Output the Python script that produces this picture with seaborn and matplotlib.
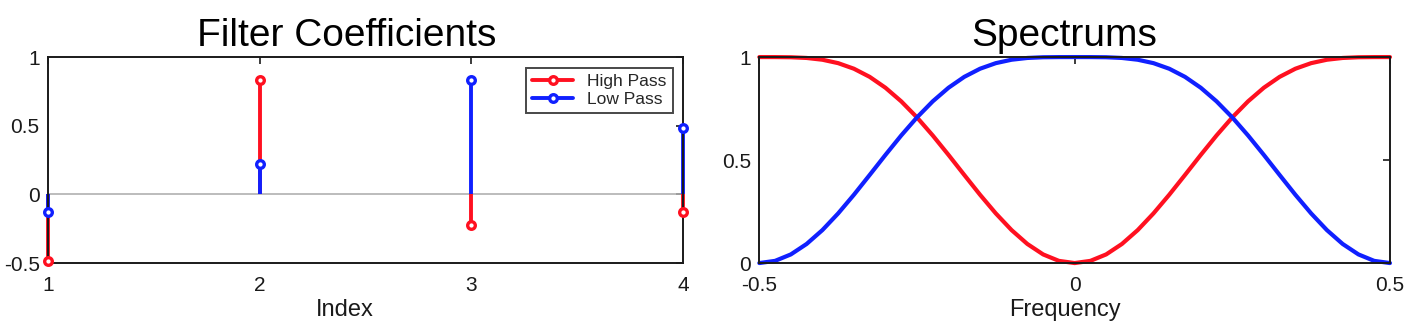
import matplotlib
matplotlib.use('Agg')
import matplotlib.pyplot as plt
import seaborn as sns
import pandas as pd

sns.set_style('white')
plt.rcParams['font.family'] = ['Liberation Sans', 'DejaVu Sans']

# 滤波器系数
index = [1, 2, 3, 4]
high_pass = [-0.483, 0.8365, -0.2241, -0.1294]
low_pass = [-0.1294, 0.2241, 0.8365, 0.483]

# 频谱 (从图上读取的采样点, 0 到 0.5, 两侧对称)
freq = [-0.5, -0.475, -0.45, -0.425, -0.4, -0.375, -0.35, -0.325, -0.3, -0.275,
        -0.25, -0.225, -0.2, -0.175, -0.15, -0.125, -0.1, -0.075, -0.05, -0.025,
        0.0, 0.025, 0.05, 0.075, 0.1, 0.125, 0.15, 0.175, 0.2, 0.225,
        0.25, 0.275, 0.3, 0.325, 0.35, 0.375, 0.4, 0.425, 0.45, 0.475, 0.5]
half_low = [1.0, 0.9999, 0.9991, 0.9957, 0.9871, 0.9705, 0.9434, 0.9039, 0.8511, 0.7851,
            0.7071, 0.6194, 0.525, 0.4277, 0.3316, 0.241, 0.16, 0.0927, 0.042, 0.0106, 0.0]
half_high = [0.0, 0.0106, 0.042, 0.0927, 0.16, 0.241, 0.3316, 0.4277, 0.525, 0.6194,
             0.7071, 0.7851, 0.8511, 0.9039, 0.9434, 0.9705, 0.9871, 0.9957, 0.9991, 0.9999, 1.0]
spec_low = half_low[::-1] + half_low[1:]
spec_high = half_high[::-1] + half_high[1:]

RED = '#ff1020'
BLUE = '#1020ff'
INK = '#1a1a1a'

fig = plt.figure(figsize=(14.14, 3.28), dpi=100)
ax1 = fig.add_axes([0.034, 0.198, 0.449, 0.628])
ax2 = fig.add_axes([0.537, 0.198, 0.446, 0.628])

# 左图: 滤波器系数
ax1.axhline(0, color='#b0b0b0', lw=1.2, zorder=1)
for vals, color, label in [(high_pass, RED, 'High Pass'), (low_pass, BLUE, 'Low Pass')]:
    ax1.vlines(index, 0, vals, color=color, lw=2.8, zorder=2, clip_on=False)
    ax1.plot(index, vals, 'o', color=color, mfc='white', mec=color, mew=2.4, ms=5.5,
             zorder=3, clip_on=False)
    ax1.plot([], [], '-o', color=color, lw=2.8, mfc='white', mec=color, mew=2.4, ms=5.5,
             label=label)
ax1.set_xlim(1, 4)
ax1.set_ylim(-0.5, 1)
ax1.set_xticks([1, 2, 3, 4])
ax1.set_yticks([-0.5, 0, 0.5, 1])
ax1.set_yticklabels(['-0.5', '0', '0.5', '1'])
ax1.set_xlabel('Index', fontsize=17, color=INK)
ax1.xaxis.set_label_coords(0.468, -0.175)
ax1.set_title('Filter Coefficients', fontsize=28, pad=8, color='black', x=0.471)
leg = ax1.legend(loc='upper right', fontsize=12.5, frameon=True, fancybox=False,
                 edgecolor=INK, numpoints=1, handlelength=2.4,
                 borderpad=0.35, labelspacing=0.15, handletextpad=0.8,
                 borderaxespad=0, bbox_to_anchor=(0.984, 0.947))
leg.get_frame().set_linewidth(1.4)

# 右图: 频谱
df = pd.DataFrame({'freq': freq + freq, 'mag': spec_high + spec_low,
                   'kind': ['High Pass'] * len(freq) + ['Low Pass'] * len(freq)})
sns.lineplot(data=df, x='freq', y='mag', hue='kind', palette=[RED, BLUE],
             lw=3, legend=False, ax=ax2, clip_on=False)
ax2.set_xlim(-0.5, 0.5)
ax2.set_ylim(0, 1)
ax2.set_xticks([-0.5, 0, 0.5])
ax2.set_xticklabels(['-0.5', '0', '0.5'])
ax2.set_yticks([0, 0.5, 1])
ax2.set_yticklabels(['0', '0.5', '1'])
ax2.set_xlabel('Frequency', fontsize=17, color=INK)
ax2.xaxis.set_label_coords(0.485, -0.175)
ax2.set_ylabel('')
ax2.set_title('Spectrums', fontsize=28, pad=8, color='black', x=0.483)

for ax in (ax1, ax2):
    ax.tick_params(direction='in', top=True, right=True, length=5, width=1.2,
                   labelsize=15, color=INK, labelcolor=INK)
    ax.tick_params(axis='x', pad=9)
    ax.tick_params(axis='y', pad=6)
    for s in ax.spines.values():
        s.set_color(INK)
        s.set_linewidth(1.4)

fig.savefig('out.png', dpi=100)
